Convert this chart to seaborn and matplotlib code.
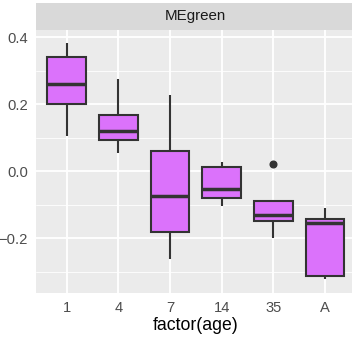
import matplotlib
matplotlib.use("Agg")
import matplotlib.pyplot as plt
import seaborn as sns
import pandas as pd
import numpy as np

# Data: five values per group (min, Q1, median, Q3, max / outlier)
categories = ["1", "4", "7", "14", "35", "A"]
g1 = [0.104, 0.201, 0.261, 0.341, 0.383]
g4 = [0.055, 0.092, 0.121, 0.169, 0.276]
g7 = [-0.262, -0.182, -0.075, 0.060, 0.228]
g14 = [-0.105, -0.079, -0.054, 0.013, 0.027]
g35 = [-0.200, -0.148, -0.129, -0.090, 0.023]
gA = [-0.321, -0.313, -0.155, -0.143, -0.110]
groups = [g1, g4, g7, g14, g35, gA]

strip_label = "MEgreen"
x_title = "factor(age)"
y_ticks = [-0.2, 0.0, 0.2, 0.4]
y_minor = [-0.3, -0.1, 0.1, 0.3]

df = pd.DataFrame({
    "age": [c for c, g in zip(categories, groups) for _ in g],
    "value": [v for g in groups for v in g],
})

sns.set_theme(style="white")
plt.rcParams["font.family"] = ["Liberation Sans", "DejaVu Sans"]

W, H = 352, 340
fig = plt.figure(figsize=(W / 100, H / 100), dpi=100)

pl, pr, pt, pb = 36.0, 355.7, 30.0, 292.7
ax = fig.add_axes([pl / W, 1 - pb / H, (pr - pl) / W, (pb - pt) / H])
ax.set_facecolor("#EBEBEB")

edge = "#333333"
sns.boxplot(
    data=df, x="age", y="value", order=categories, ax=ax,
    color="#DB72FB", saturation=1, width=0.75, linecolor=edge,
    linewidth=1.5, showcaps=False, whis=1.5,
    medianprops=dict(color=edge, linewidth=2.5),
    flierprops=dict(marker="o", markerfacecolor=edge, markeredgecolor=edge,
                    markersize=4.8),
    zorder=3,
)

ax.set_xlim(-0.594, 5.594)
ax.set_ylim(-0.3624, 0.4218)
ax.set_yticks(y_ticks)
ax.set_yticklabels(["\u22120.2", "0.0", "0.2", "0.4"])
ax.set_yticks(y_minor, minor=True)
ax.grid(which="major", color="white", linewidth=1.3, zorder=0)
ax.grid(which="minor", axis="y", color="white", linewidth=0.6, zorder=0)
ax.set_axisbelow(True)
for s in ax.spines.values():
    s.set_visible(False)

ax.tick_params(axis="both", which="major", length=3.2, width=1.0, color="#333333",
               labelsize=10.6, labelcolor="#4D4D4D", pad=2.5)
ax.tick_params(axis="y", which="minor", length=0)
ax.set_xlabel(x_title, fontsize=12.7, color="black", labelpad=1.5)
ax.set_ylabel("")

# facet strip
sax = fig.add_axes([pl / W, 1 - pt / H, (pr - pl) / W, (pt - 2.7) / H])
sax.set_facecolor("#D9D9D9")
sax.set_xticks([]); sax.set_yticks([])
for s in sax.spines.values():
    s.set_visible(False)
sax.text(0.5, 0.5, strip_label, ha="center", va="center", fontsize=10.9,
         color="#1A1A1A", transform=sax.transAxes)

fig.savefig("out.png", dpi=100, facecolor="white")
